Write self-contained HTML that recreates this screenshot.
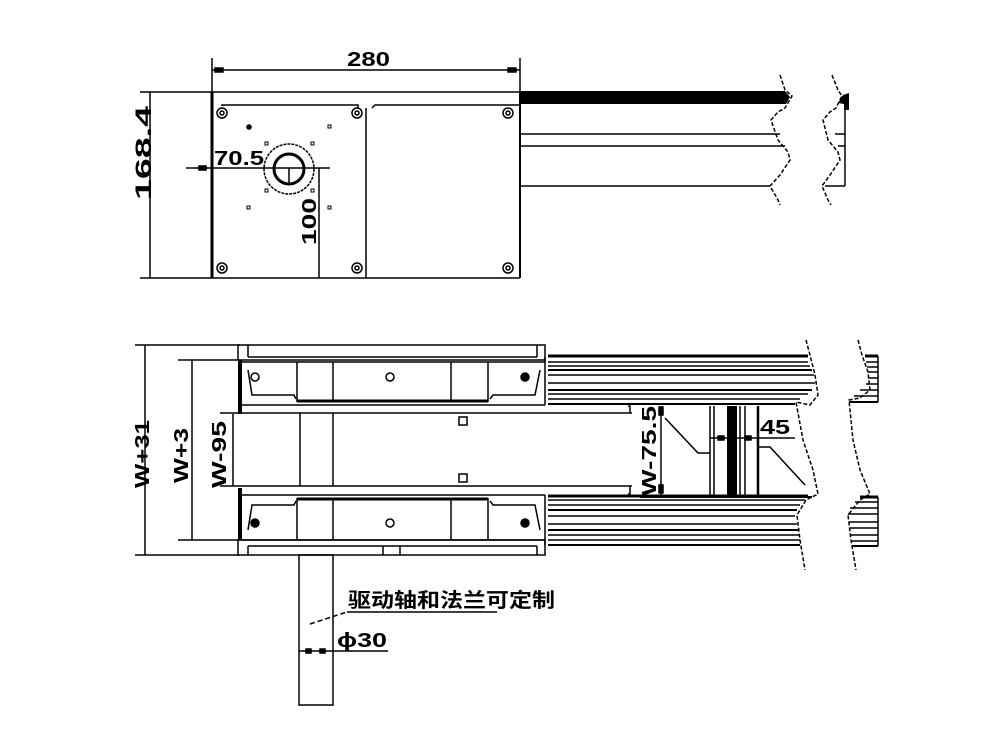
<!DOCTYPE html>
<html><head><meta charset="utf-8"><style>
html,body{margin:0;padding:0;background:#fff}
svg{display:block}
text{font-family:"Liberation Sans","Noto Sans CJK SC",sans-serif;font-weight:bold;fill:#000}
</style></head><body>
<svg width="1000" height="750" viewBox="0 0 1000 750" xmlns="http://www.w3.org/2000/svg" stroke="#000" fill="none" stroke-width="1.5">
<!-- ===== TOP VIEW ===== -->
<line x1="212" y1="58" x2="212" y2="100"/>
<line x1="520" y1="58" x2="520" y2="100"/>
<line x1="212" y1="70" x2="520" y2="70"/>
<rect x="215" y="68" width="8" height="4" fill="#000"/>
<rect x="508" y="68" width="8" height="4" fill="#000"/>
<text x="347" y="66" font-size="20" textLength="43" lengthAdjust="spacingAndGlyphs" stroke="none">280</text>
<line x1="140" y1="92" x2="520" y2="92"/>
<line x1="140" y1="278" x2="520" y2="278"/>
<line x1="150" y1="92" x2="150" y2="278"/>
<text transform="translate(151,200) rotate(-90)" font-size="22" textLength="94" lengthAdjust="spacingAndGlyphs" stroke="none">168.4</text>
<line x1="212" y1="92" x2="212" y2="278" stroke-width="3"/>
<polyline points="222,106 222,105 358,105 358,108"/>
<polyline points="372,108 375,105 520,105"/>
<line x1="366" y1="108" x2="366" y2="278"/>
<line x1="520" y1="92" x2="520" y2="278" stroke-width="2"/>
<g stroke-width="1.5">
<circle cx="222" cy="113" r="5"/><circle cx="357" cy="113" r="5"/><circle cx="508" cy="113" r="5"/>
<circle cx="222" cy="268" r="5"/><circle cx="357" cy="268" r="5"/><circle cx="508" cy="268" r="5"/>
<circle cx="222" cy="113" r="2"/><circle cx="357" cy="113" r="2"/><circle cx="508" cy="113" r="2"/>
<circle cx="222" cy="268" r="2"/><circle cx="357" cy="268" r="2"/><circle cx="508" cy="268" r="2"/>
</g>
<g stroke-width="1">
<rect x="328" y="125" width="3" height="3"/><rect x="247" y="206" width="3" height="3"/><rect x="328" y="206" width="3" height="3"/>
<rect x="265" y="142" width="3" height="3"/><rect x="311" y="142" width="3" height="3"/><rect x="265" y="189" width="3" height="3"/><rect x="311" y="189" width="3" height="3"/>
</g>
<circle cx="249" cy="127" r="2" fill="#000"/>
<circle cx="289" cy="169" r="25" stroke-dasharray="3 1"/>
<circle cx="289" cy="169" r="15" stroke-width="3"/>
<line x1="186" y1="168" x2="330" y2="168"/>
<line x1="289" y1="168" x2="289" y2="184"/>
<rect x="199" y="166" width="7" height="4" fill="#000"/>
<text x="214" y="165" font-size="20" textLength="50" lengthAdjust="spacingAndGlyphs" stroke="none">70.5</text>
<line x1="319" y1="168" x2="319" y2="278"/>
<text transform="translate(316,245) rotate(-90)" font-size="20" textLength="47" lengthAdjust="spacingAndGlyphs" stroke="none">100</text>
<!-- right rail top -->
<polygon points="520,91 785,91 790,97 786,104 520,104" fill="#000" stroke="none"/>
<line x1="520" y1="134" x2="780" y2="134"/>
<line x1="520" y1="146" x2="785" y2="146"/>
<line x1="520" y1="186" x2="770" y2="186"/>
<polyline points="780,75 785,90 792,96 785,108 778,112 771,120 778,140 788,152 790,160 780,175 770,186 778,200 780,205" stroke-dasharray="4 2"/>
<polyline points="832,75 838,90 842,96 836,108 830,112 823,120 828,140 838,152 840,160 830,175 822,186 828,200 831,205" stroke-dasharray="4 2"/>
<polygon points="838,103 843,95 849,93 849,110 844,110 844,104" fill="#000" stroke="none"/>
<line x1="845" y1="104" x2="845" y2="186"/>
<line x1="835" y1="134" x2="845" y2="134"/><line x1="838" y1="146" x2="845" y2="146"/><line x1="825" y1="186" x2="845" y2="186"/>

<!-- ===== BOTTOM VIEW ===== -->
<line x1="135" y1="345" x2="240" y2="345"/>
<line x1="135" y1="555" x2="240" y2="555"/>
<line x1="145" y1="345" x2="145" y2="555"/>
<text transform="translate(149,488) rotate(-90)" font-size="20" textLength="68" lengthAdjust="spacingAndGlyphs" stroke="none">W+31</text>
<line x1="178" y1="360" x2="240" y2="360"/>
<line x1="178" y1="540" x2="240" y2="540"/>
<line x1="192" y1="360" x2="192" y2="540"/>
<text transform="translate(188,483) rotate(-90)" font-size="20" textLength="55" lengthAdjust="spacingAndGlyphs" stroke="none">W+3</text>
<line x1="233" y1="414" x2="233" y2="486"/>
<text transform="translate(226,488) rotate(-90)" font-size="20" textLength="67" lengthAdjust="spacingAndGlyphs" stroke="none">W-95</text>
<!-- frame top -->
<rect x="238" y="345" width="307" height="15"/>
<line x1="248" y1="345" x2="248" y2="357"/><line x1="537" y1="345" x2="537" y2="357"/>
<line x1="248" y1="357" x2="537" y2="357"/>
<!-- frame bottom -->
<rect x="238" y="540" width="307" height="15"/>
<line x1="248" y1="546" x2="248" y2="555"/><line x1="537" y1="546" x2="537" y2="555"/>
<line x1="248" y1="546" x2="537" y2="546"/>
<line x1="383" y1="546" x2="383" y2="555"/><line x1="400" y1="546" x2="400" y2="555"/>
<!-- top guide -->
<line x1="240" y1="360" x2="240" y2="414" stroke-width="4"/>
<line x1="240" y1="362" x2="545" y2="362"/>
<line x1="240" y1="405" x2="545" y2="405"/>
<line x1="297" y1="362" x2="297" y2="402"/><line x1="333" y1="362" x2="333" y2="402"/>
<line x1="451" y1="362" x2="451" y2="402"/><line x1="488" y1="362" x2="488" y2="402"/>
<line x1="297" y1="401" x2="488" y2="401" stroke-width="3"/>
<polyline points="248,370 252,395 294,395 296,399"/>
<polyline points="540,370 535,395 493,395 490,399"/>
<circle cx="255" cy="377" r="4"/><circle cx="390" cy="377" r="4"/><circle cx="525" cy="377" r="4" fill="#000"/>
<!-- middle channel -->
<line x1="220" y1="413" x2="632" y2="413"/>
<line x1="220" y1="486" x2="632" y2="486"/>
<line x1="300" y1="413" x2="300" y2="486"/><line x1="333" y1="413" x2="333" y2="486"/>
<rect x="459" y="417" width="8" height="8"/><rect x="459" y="474" width="8" height="8"/>
<!-- bottom guide -->
<line x1="240" y1="488" x2="240" y2="540" stroke-width="4"/>
<line x1="240" y1="495" x2="545" y2="495"/>
<line x1="240" y1="540" x2="545" y2="540"/>
<line x1="297" y1="498" x2="297" y2="540"/><line x1="333" y1="498" x2="333" y2="540"/>
<line x1="451" y1="498" x2="451" y2="540"/><line x1="488" y1="498" x2="488" y2="540"/>
<line x1="297" y1="499" x2="488" y2="499" stroke-width="3"/>
<polyline points="248,530 252,505 294,505 296,501"/>
<polyline points="540,530 535,505 493,505 490,501"/>
<circle cx="255" cy="523" r="4" fill="#000"/><circle cx="390" cy="523" r="4"/><circle cx="525" cy="523" r="4" fill="#000"/>
<!-- striped rails -->
<g stroke-width="1.5">
<line x1="545" y1="357" x2="545" y2="405"/>
<line x1="548" y1="356" x2="808" y2="356" stroke-width="3"/>
<line x1="548" y1="362" x2="808" y2="362"/>
<line x1="548" y1="366" x2="810" y2="366"/>
<line x1="548" y1="370" x2="812" y2="370" stroke-width="2"/>
<line x1="548" y1="375" x2="814" y2="375"/>
<line x1="548" y1="383" x2="815" y2="383"/>
<line x1="548" y1="390" x2="812" y2="390" stroke-width="2"/>
<line x1="548" y1="394" x2="808" y2="394"/>
<line x1="548" y1="399" x2="800" y2="399"/>
<line x1="548" y1="404" x2="795" y2="404" stroke-width="2"/>
<line x1="545" y1="495" x2="545" y2="545"/>
<line x1="548" y1="496" x2="808" y2="496" stroke-width="3"/>
<line x1="548" y1="500" x2="805" y2="500"/>
<line x1="548" y1="505" x2="800" y2="505"/>
<line x1="548" y1="510" x2="797" y2="510" stroke-width="2"/>
<line x1="548" y1="516" x2="795" y2="516"/>
<line x1="548" y1="524" x2="797" y2="524"/>
<line x1="548" y1="530" x2="798" y2="530" stroke-width="2"/>
<line x1="548" y1="535" x2="799" y2="535"/>
<line x1="548" y1="540" x2="800" y2="540"/>
<line x1="548" y1="545" x2="800" y2="545" stroke-width="2"/>
</g>
<polyline points="628,406 630,406 630,413"/><polyline points="628,494 630,494 630,486"/>
<!-- right middle -->
<line x1="661" y1="406" x2="661" y2="496"/>
<rect x="659" y="407" width="4" height="8" fill="#000"/><rect x="659" y="485" width="4" height="8" fill="#000"/>
<text transform="translate(656,496) rotate(-90)" font-size="20" textLength="90" lengthAdjust="spacingAndGlyphs" stroke="none">W-75.5</text>
<polyline points="665,418 698,453 710,453"/>
<line x1="710" y1="406" x2="710" y2="497"/><line x1="714" y1="406" x2="714" y2="497"/>
<rect x="727" y="406" width="10" height="91" fill="#000" stroke="none"/>
<line x1="740" y1="406" x2="740" y2="497"/><line x1="745" y1="406" x2="745" y2="497"/>
<line x1="758" y1="406" x2="758" y2="497" stroke-width="2.5"/>
<line x1="710" y1="438" x2="795" y2="438"/>
<rect x="718" y="436" width="6" height="4" fill="#000"/><rect x="745" y="436" width="6" height="4" fill="#000"/>
<text x="760" y="434" font-size="20" textLength="30" lengthAdjust="spacingAndGlyphs" stroke="none">45</text>
<polyline points="758,447 770,447 805,485"/>
<line x1="640" y1="497" x2="812" y2="497" stroke-width="2"/>
<!-- break lines bottom -->
<polyline points="806,340 810,355 815,375 818,395 810,405 796,402 803,440 813,470 818,494 806,500 797,515 800,540 805,570" stroke-dasharray="4 2"/>
<polyline points="858,340 862,355 868,372 870,390 860,398 849,400 853,440 860,470 870,494 860,500 848,515 851,540 856,570" stroke-dasharray="4 2"/>
<g>
<line x1="865" y1="356" x2="878" y2="356" stroke-width="3"/><line x1="866" y1="362" x2="878" y2="362"/><line x1="867" y1="367" x2="878" y2="367"/>
<line x1="868" y1="372" x2="878" y2="372"/><line x1="868" y1="378" x2="878" y2="378"/><line x1="866" y1="384" x2="878" y2="384"/>
<line x1="860" y1="390" x2="878" y2="390"/><line x1="854" y1="396" x2="878" y2="396"/><line x1="849" y1="402" x2="878" y2="402" stroke-width="2"/>
<line x1="878" y1="356" x2="878" y2="402"/>
<line x1="860" y1="497" x2="878" y2="497" stroke-width="3"/><line x1="855" y1="502" x2="878" y2="502"/><line x1="850" y1="508" x2="878" y2="508"/>
<line x1="848" y1="514" x2="878" y2="514"/><line x1="849" y1="522" x2="878" y2="522"/><line x1="850" y1="528" x2="878" y2="528"/>
<line x1="850" y1="535" x2="878" y2="535"/><line x1="851" y1="541" x2="878" y2="541"/><line x1="852" y1="546" x2="878" y2="546" stroke-width="2"/>
<line x1="878" y1="497" x2="878" y2="546"/>
</g>
<!-- shaft -->
<rect x="299" y="555" width="34" height="150"/>
<line x1="310" y1="624" x2="347" y2="612" stroke-dasharray="5 3"/>
<line x1="347" y1="612" x2="497" y2="612"/>
<text x="348" y="607" font-size="20" textLength="207" lengthAdjust="spacingAndGlyphs" stroke="none">驱动轴和法兰可定制</text>
<line x1="299" y1="651" x2="388" y2="651"/>
<rect x="306" y="649" width="5" height="4" fill="#000"/><rect x="320" y="649" width="5" height="4" fill="#000"/>
<text x="337" y="647" font-size="20" textLength="50" lengthAdjust="spacingAndGlyphs" stroke="none">ϕ30</text>
</svg>
</body></html>
